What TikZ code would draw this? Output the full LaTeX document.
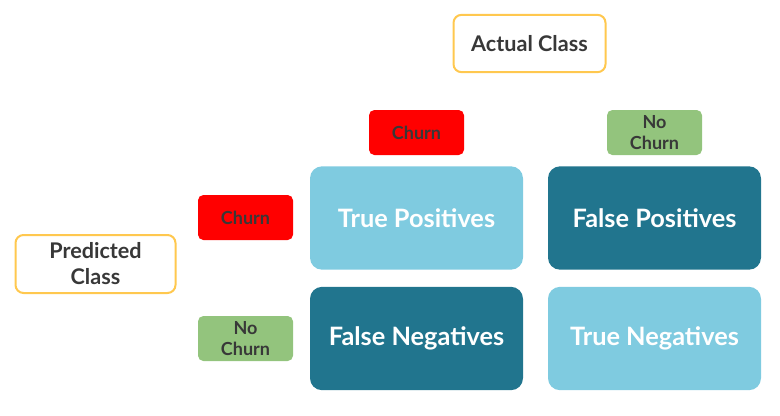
\documentclass[tikz,border=0pt]{standalone}
\usepackage{fontspec}
\setmainfont{Lato}
\usepackage{xcolor}
\definecolor{Glacier}{HTML}{7FCBE0}
\definecolor{Matisse}{HTML}{21758E}
\definecolor{Saffron}{HTML}{FFC84F}
\definecolor{Asparagus}{HTML}{93C47D}
\definecolor{MineShaft}{HTML}{383838}
\tikzset{
  cell/.style={rounded corners=9pt,minimum width=159.75pt,minimum height=77.5pt,
    text=white,font=\bfseries\fontsize{19}{21}\selectfont},
  tag/.style={rounded corners=4pt,minimum width=71.25pt,minimum height=33.75pt,
    text=MineShaft,font=\bfseries\fontsize{13.5}{15.75}\selectfont,align=center},
  classbox/.style={draw=Saffron,line width=1.5pt,rounded corners=6pt,fill=white,
    text=MineShaft,font=\bfseries\fontsize{16.2}{19.5}\selectfont,align=center}
}
\begin{document}
\begin{tikzpicture}[x=0.75pt,y=-0.75pt]
    \useasboundingbox (0,0) rectangle (780,415);
    \node[classbox,minimum width=114pt,minimum height=43pt] (actual) at (529.5,43.5) {Actual Class};
    \node[classbox,minimum width=120pt,minimum height=43.5pt] (predicted) at (95.5,264) {Predicted\\Class};

    \node[tag,fill=red] (churnA) at (416.5,132.5) {Churn};
    \node[tag,fill=Asparagus] (nochurnA) at (654.5,132.5) {No\\Churn};
    \node[tag,fill=red] (churnP) at (245.5,217.5) {Churn};
    \node[tag,fill=Asparagus] (nochurnP) at (245.5,338.5) {No\\Churn};

    \node[cell,fill=Glacier] (tp) at (416.5,218) {True Positives};
    \node[cell,fill=Matisse] (fp) at (654.5,218) {False Positives};
    \node[cell,fill=Matisse] (fn) at (416.5,338.5) {False Negatives};
    \node[cell,fill=Glacier] (tn) at (654.5,338.5) {True Negatives};
\end{tikzpicture}
\end{document}
